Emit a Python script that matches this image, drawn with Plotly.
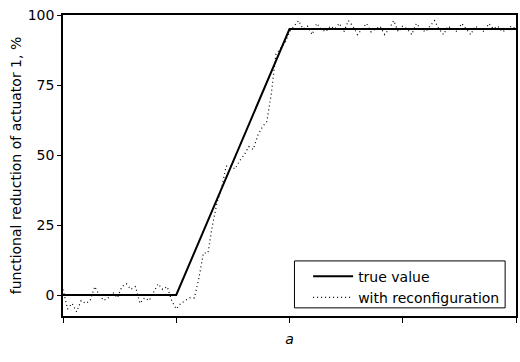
import plotly.graph_objects as go

# true value (piecewise linear)
true_t = [0, 25, 50, 100]
true_val = [0, 0, 95, 95]

# with reconfiguration (sampled)
reconf_t = list(range(0, 101))
reconf_val = [
    2, -5, -3, -6, -2, -3, -2, 3, 0, -2,
    -1, 1, -1, 3, 4, 2, 3, -3, -1, -2,
    1, 4, 2, 3, -2, -5, -3, -2, -1, -1,
    6, 15, 15, 25, 33, 38, 46, 46, 45, 48,
    50, 53, 52, 57, 60, 62, 72, 86, 88, 90,
    94, 96, 98, 95, 96, 93, 97, 95, 94, 96,
    95, 97, 94, 98, 96, 93, 95, 97, 94, 95,
    96, 93, 95, 98, 94, 96, 95, 93, 97, 95,
    94, 96, 98, 95, 93, 96, 95, 94, 97, 95,
    93, 96, 95, 94, 97, 95, 96, 94, 95, 96, 95,
]

y_ticks = [0, 25, 50, 75, 100]
x_ticks = [0, 25, 50, 75, 100]

fig = go.Figure()
fig.add_trace(go.Scatter(
    x=true_t, y=true_val, mode="lines", name="true value",
    line=dict(color="black", width=2),
))
fig.add_trace(go.Scatter(
    x=reconf_t, y=reconf_val, mode="lines", name="with reconfiguration",
    line=dict(color="black", width=1.2, dash="1px,3px"),
))

font = dict(family="DejaVu Sans, sans-serif", size=14, color="black")

fig.update_layout(
    width=520, height=362,
    margin=dict(l=63, r=2, t=15, b=46),
    paper_bgcolor="white", plot_bgcolor="white",
    font=font,
    showlegend=True,
    legend=dict(
        x=0.976, y=0.008, xanchor="right", yanchor="bottom",
        borderwidth=0, bgcolor="rgba(0,0,0,0)",
        font=font, itemwidth=40,
        tracegroupgap=0,
    ),
    shapes=[dict(
        type="rect", xref="paper", yref="paper",
        x0=0.511, x1=0.976, y0=0.027, y1=0.183,
        line=dict(color="black", width=1), fillcolor="white", layer="above",
    )],
)
fig.update_xaxes(
    range=[0, 100], tickvals=x_ticks, showticklabels=False,
    ticks="outside", ticklen=5, tickcolor="black",
    showline=True, linecolor="black", linewidth=1.5, mirror=True,
    showgrid=False, zeroline=False,
    title=dict(text="<i>a</i>", font=font, standoff=12),
)
fig.update_yaxes(
    range=[-7.5, 100], tickvals=y_ticks, tickfont=font,
    ticks="outside", ticklen=4, tickcolor="black",
    showline=True, linecolor="black", linewidth=1.5, mirror=True,
    showgrid=False, zeroline=False,
    title=dict(text="functional reduction of actuator 1, %", font=font, standoff=3),
)

fig.write_html("out.html")
